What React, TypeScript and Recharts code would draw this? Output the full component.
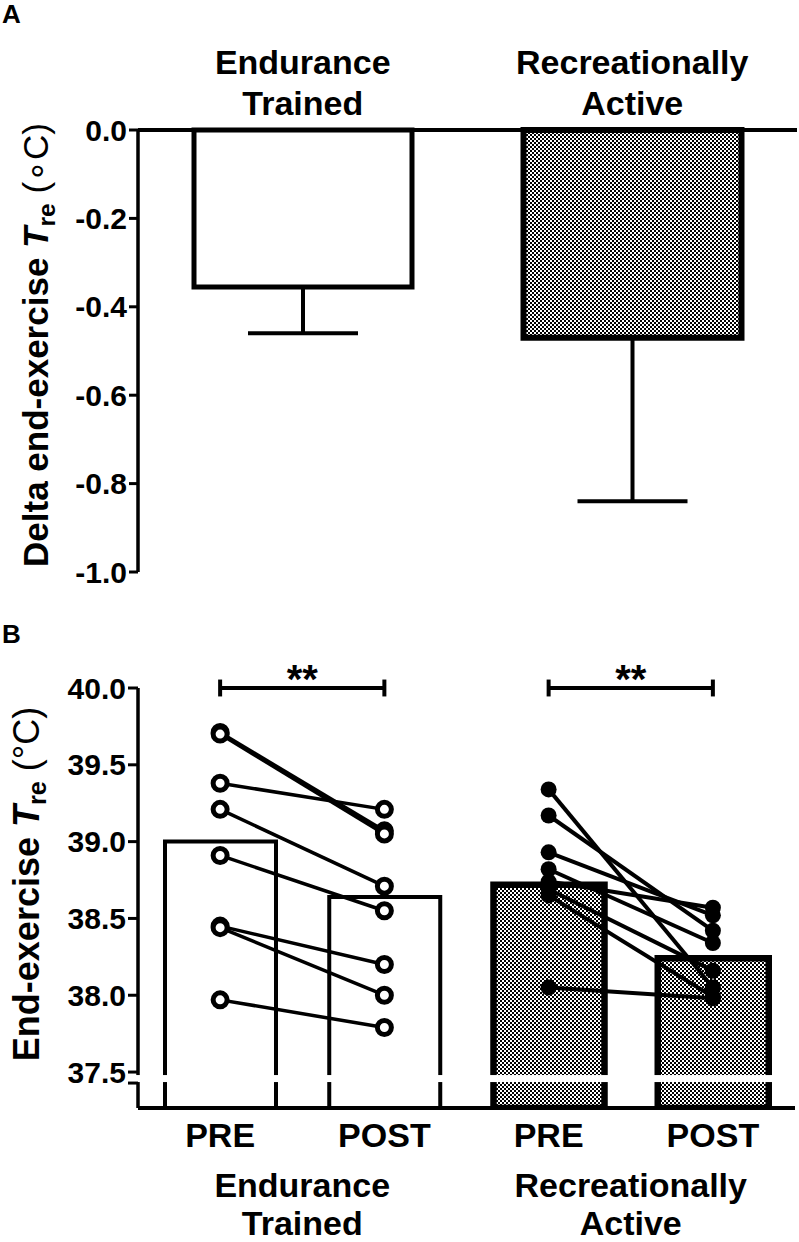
import React from "react";
import { BarChart, ComposedChart, Bar, Line, XAxis, YAxis, Cell, ErrorBar, ReferenceLine } from "recharts";

const FONT = "'Liberation Sans', Arial, Helvetica, sans-serif";

// Panel A - delta end-exercise Tre
const deltaGroups = ["Endurance Trained", "Recreationally Active"];
const deltaMean = [-0.355, -0.47];
const deltaSd = [0.105, 0.37];
const deltaTicks = [0, -0.2, -0.4, -0.6, -0.8, -1.0];

// Panel B - end-exercise Tre, PRE vs POST
const conditions = ["PRE", "POST", "PRE", "POST"];
const conditionGroups = ["Endurance Trained", "Endurance Trained", "Recreationally Active", "Recreationally Active"];
const treMean = [39.0, 38.64, 38.72, 38.24];
const etPre = [39.71, 39.7, 39.38, 39.21, 38.91, 38.45, 38.44, 37.97];
const etPost = [39.07, 39.05, 39.21, 38.71, 38.55, 38.2, 38.0, 37.79];
const raPre = [39.34, 39.17, 38.93, 38.82, 38.74, 38.69, 38.65, 38.05];
const raPost = [38.05, 38.42, 38.52, 38.34, 38.57, 38.16, 37.99, 37.98];
const treTicks = [37.5, 38.0, 38.5, 39.0, 39.5, 40.0];
const treMin = 37.266;
const sigPairs = [["c0", "c1"], ["c2", "c3"]];

const deltaData = deltaGroups.map((name, i) => ({ name, mean: deltaMean[i], err: [deltaSd[i], 0] }));

const treData = conditions.map((cond, k) => {
  const row: Record<string, any> = { key: `c${k}`, cond, group: conditionGroups[k], mean: treMean[k] };
  etPre.forEach((_, i) => {
    row[`et${i}`] = k === 0 ? etPre[i] : k === 1 ? etPost[i] : null;
  });
  raPre.forEach((_, i) => {
    row[`ra${i}`] = k === 2 ? raPre[i] : k === 3 ? raPost[i] : null;
  });
  return row;
});

const checker = (id: string) => (
  <defs>
    <pattern id={id} width={4} height={4} patternUnits="userSpaceOnUse">
      <rect width={4} height={4} fill="#fff" />
      <rect width={2} height={2} fill="#000" />
      <rect x={2} y={2} width={2} height={2} fill="#000" />
    </pattern>
  </defs>
);

const tickStyle = { fill: "#000", fontSize: 30, fontWeight: "bold", fontFamily: FONT };

const TopGroupTick = (props: any) => {
  const { x, y, payload } = props;
  const [l1, l2] = String(payload.value).split(" ");
  return (
    <text textAnchor="middle" fontFamily={FONT} fontWeight="bold" fontSize={34} fill="#000">
      <tspan x={x} y={y - 56}>{l1}</tspan>
      <tspan x={x} y={y - 15}>{l2}</tspan>
    </text>
  );
};

const CondTick = (props: any) => {
  const { x, y, payload, index } = props;
  return (
    <text x={x} y={y + 39} textAnchor="middle" fontFamily={FONT} fontWeight="bold" fontSize={34} fill="#000">
      {conditions[index] ?? payload.value}
    </text>
  );
};

const BottomGroupTick = (props: any) => {
  const { x, y, payload } = props;
  const [l1, l2] = String(payload.value).split(" ");
  return (
    <text textAnchor="middle" fontFamily={FONT} fontWeight="bold" fontSize={34} fill="#000">
      <tspan x={x} y={y + 29}>{l1}</tspan>
      <tspan x={x} y={y + 67}>{l2}</tspan>
    </text>
  );
};

// y tick of panel B, the 37.5 tick also draws the axis break
const TreTick = (props: any) => {
  const { x, y, payload } = props;
  const v = Number(payload.value);
  const axisX = x + 12;
  return (
    <g>
      {v === 37.5 && (
        <g>
          <rect x={axisX - 14} y={y + 3} width={680} height={7} fill="#fff" />
          <line x1={axisX - 10} x2={axisX} y1={y + 11} y2={y + 11} stroke="#000" strokeWidth={3} />
        </g>
      )}
      <text x={x} y={y} dy="0.355em" textAnchor="end" {...tickStyle}>
        {v.toFixed(1)}
      </text>
    </g>
  );
};

const AxisTitle = ({ viewBox, x0, dy, text, ring, size }: any) => {
  const cy = viewBox.y + viewBox.height / 2 + dy;
  return (
    <text
      x={x0}
      y={cy}
      transform={`rotate(-90, ${x0}, ${cy})`}
      textAnchor="middle"
      fontFamily={FONT}
      fontWeight="bold"
      fontSize={size}
      fill="#000"
    >
      {text}
      <tspan fontStyle="italic">T</tspan>
      <tspan fontSize={size * 0.7} dy={7}>re</tspan>
      <tspan dy={-7} fontWeight="normal">{` (${ring}C)`}</tspan>
    </text>
  );
};

const OpenDot = (props: any) => {
  const { cx, cy, index, dataKey } = props;
  if (cy == null || cx == null) return <g key={`${dataKey}-${index}`} />;
  return <circle key={`${dataKey}-${index}`} cx={cx} cy={cy} r={7} fill="#fff" stroke="#000" strokeWidth={5} />;
};

const FilledDot = (props: any) => {
  const { cx, cy, index, dataKey } = props;
  if (cy == null || cx == null) return <g key={`${dataKey}-${index}`} />;
  return <circle key={`${dataKey}-${index}`} cx={cx} cy={cy} r={8} fill="#000" stroke="none" />;
};

const Stars = (props: any) => {
  const vb = props.viewBox || {};
  return (
    <text x={vb.x + vb.width / 2} y={vb.y + 5} textAnchor="middle" fontFamily={FONT} fontWeight="bold" fontSize={40} fill="#000">
      **
    </text>
  );
};

export default function App() {
  return (
    <div style={{ position: "absolute", left: 0, top: 0, width: 799, height: 1242, background: "#fff", fontFamily: FONT }}>
      <svg width={60} height={40} style={{ position: "absolute", left: 0, top: 0 }}>
        <text x={2} y={23} fontFamily={FONT} fontWeight="bold" fontSize={26} fill="#000">A</text>
      </svg>
      <svg width={60} height={40} style={{ position: "absolute", left: 0, top: 620 }}>
        <text x={2} y={23} fontFamily={FONT} fontWeight="bold" fontSize={26} fill="#000">B</text>
      </svg>

      <div style={{ position: "absolute", left: 0, top: 0 }}>
        <BarChart width={799} height={600} data={deltaData} margin={{ top: 0, right: 2, left: 0, bottom: 28 }}>
          {checker("chkA")}
          <XAxis
            dataKey="name"
            orientation="top"
            height={130}
            tickLine={false}
            tickSize={0}
            tickMargin={0}
            axisLine={{ stroke: "#000", strokeWidth: 4 }}
            tick={<TopGroupTick />}
            interval={0}
          />
          <YAxis
            type="number"
            domain={[-1, 0]}
            ticks={deltaTicks}
            interval={0}
            width={138}
            tickSize={9}
            tickMargin={2}
            tickFormatter={(v: number) => v.toFixed(1)}
            tick={tickStyle}
            tickLine={{ stroke: "#000", strokeWidth: 3 }}
            axisLine={{ stroke: "#000", strokeWidth: 3.5 }}
            label={(p: any) => <AxisTitle viewBox={p.viewBox} x0={48} dy={-6} size={35} text="Delta end-exercise " ring={"\u2218"} />}
          />
          <Bar dataKey="mean" barSize={218} isAnimationActive={false}>
            {deltaData.map((d, i) => (
              <Cell key={d.name} fill={i === 0 ? "#fff" : "url(#chkA)"} stroke="#000" strokeWidth={i === 0 ? 5 : 6} />
            ))}
            <ErrorBar dataKey="err" direction="y" width={55} stroke="#000" strokeWidth={4} />
          </Bar>
        </BarChart>
      </div>

      <div style={{ position: "absolute", left: 0, top: 600 }}>
        <ComposedChart width={799} height={642} data={treData} margin={{ top: 88, right: 4, left: 0, bottom: 0 }}>
          {checker("chkB")}
          <XAxis
            dataKey="key"
            height={60}
            tickLine={false}
            tickSize={0}
            tickMargin={0}
            axisLine={{ stroke: "#000", strokeWidth: 4 }}
            tick={<CondTick />}
            interval={0}
          />
          <XAxis
            xAxisId="grp"
            dataKey="group"
            allowDuplicatedCategory={false}
            height={74}
            tickLine={false}
            tickSize={0}
            tickMargin={0}
            axisLine={false}
            tick={<BottomGroupTick />}
            interval={0}
          />
          <Bar dataKey="mean" barSize={111} isAnimationActive={false}>
            {treData.map((d, k) => (
              <Cell key={d.key} fill={k < 2 ? "#fff" : "url(#chkB)"} stroke="#000" strokeWidth={k < 2 ? 4 : 6.5} />
            ))}
          </Bar>
          <YAxis
            type="number"
            domain={[treMin, 40]}
            allowDataOverflow
            ticks={treTicks}
            interval={0}
            width={138}
            tickSize={10}
            tickMargin={2}
            tick={<TreTick />}
            tickLine={{ stroke: "#000", strokeWidth: 3 }}
            axisLine={{ stroke: "#000", strokeWidth: 3.5 }}
            label={(p: any) => <AxisTitle viewBox={p.viewBox} x0={39} dy={-14} size={36} text="End-exercise " ring={"\u00b0"} />}
          />
          {etPre.map((_, i) => (
            <Line
              key={`et${i}`}
              dataKey={`et${i}`}
              stroke="#000"
              strokeWidth={3.5}
              dot={OpenDot}
              activeDot={false}
              isAnimationActive={false}
            />
          ))}
          {raPre.map((_, i) => (
            <Line
              key={`ra${i}`}
              dataKey={`ra${i}`}
              stroke="#000"
              strokeWidth={4}
              dot={FilledDot}
              activeDot={false}
              isAnimationActive={false}
            />
          ))}
          {sigPairs.map(([a, b]) => (
            <ReferenceLine
              key={`sig-${a}`}
              segment={[{ x: a, y: 40 }, { x: b, y: 40 }]}
              stroke="#000"
              strokeWidth={4}
              ifOverflow="visible"
              label={Stars}
            />
          ))}
          {sigPairs.flat().map((c) => (
            <ReferenceLine
              key={`cap-${c}`}
              segment={[{ x: c, y: 39.945 }, { x: c, y: 40.055 }]}
              stroke="#000"
              strokeWidth={4}
              ifOverflow="visible"
            />
          ))}
        </ComposedChart>
      </div>
    </div>
  );
}
